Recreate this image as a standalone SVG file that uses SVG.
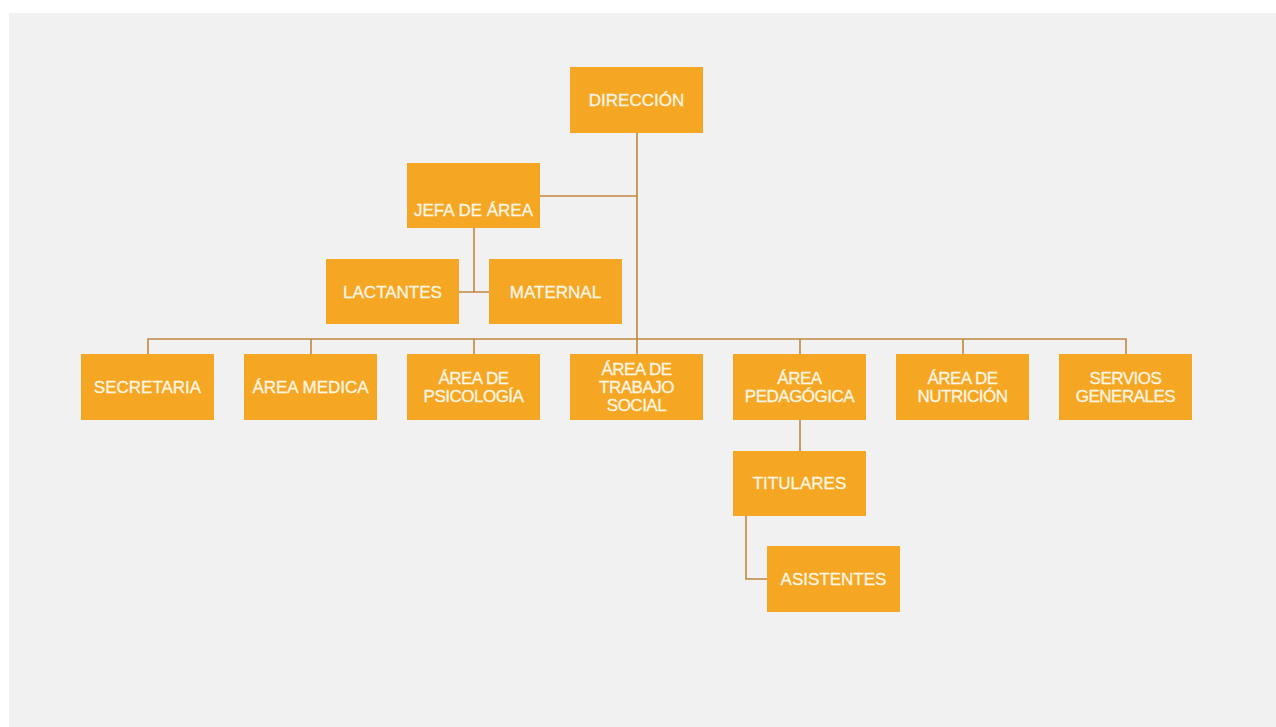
<svg xmlns="http://www.w3.org/2000/svg" width="1276" height="727" viewBox="0 0 1276 727">
<style>
.box{fill:#F5A623;}
.lbl{font-family:"Liberation Sans",Arial,sans-serif;font-size:17px;fill:#FFF6E4;stroke:#FFF6E4;stroke-width:0.3;text-anchor:middle;}
.ml{letter-spacing:-0.5px;}
.con{stroke:#C0873F;stroke-width:1.6;fill:none;}
</style>
<rect x="0" y="0" width="1276" height="727" fill="#FFFFFF"/>
<rect x="9" y="13" width="1267" height="714" fill="#F1F1F1"/>
<g id="connectors">
<path class="con" d="M637 133 V339"/>
<path class="con" d="M540 196 H637"/>
<path class="con" d="M474 228 V292 M459 292 H489"/>
<path class="con" d="M148 354 V339 H1126 V354 M311 339 V354 M474 339 V354 M637 339 V354 M800 339 V354 M963 339 V354"/>
<path class="con" d="M800 420 V451"/>
<path class="con" d="M746 516 V579 H767"/>
</g>
<g id="direccion"><rect class="box" x="570" y="67" width="133" height="66"/><text class="lbl" x="636.5" y="106">DIRECCIÓN</text></g>
<g id="jefa"><rect class="box" x="407" y="163" width="133" height="65"/><text class="lbl" x="473.5" y="216">JEFA DE ÁREA</text></g>
<g id="lactantes"><rect class="box" x="326" y="259" width="133" height="65"/><text class="lbl" x="392.5" y="298">LACTANTES</text></g>
<g id="maternal"><rect class="box" x="489" y="259" width="133" height="65"/><text class="lbl" x="555.5" y="298">MATERNAL</text></g>
<g id="secretaria"><rect class="box" x="81" y="354" width="133" height="66"/><text class="lbl" x="147.5" y="393">SECRETARIA</text></g>
<g id="medica"><rect class="box" x="244" y="354" width="133" height="66"/><text class="lbl" x="310.5" y="393">ÁREA MEDICA</text></g>
<g id="psicologia"><rect class="box" x="407" y="354" width="133" height="66"/><text class="lbl ml" x="473.5" y="384">ÁREA DE</text><text class="lbl ml" x="473.5" y="402">PSICOLOGÍA</text></g>
<g id="trabajo"><rect class="box" x="570" y="354" width="133" height="66"/><text class="lbl ml" x="636.5" y="375">ÁREA DE</text><text class="lbl ml" x="636.5" y="393">TRABAJO</text><text class="lbl ml" x="636.5" y="411">SOCIAL</text></g>
<g id="pedagogica"><rect class="box" x="733" y="354" width="133" height="66"/><text class="lbl ml" x="799.5" y="384">ÁREA</text><text class="lbl ml" x="799.5" y="402">PEDAGÓGICA</text></g>
<g id="nutricion"><rect class="box" x="896" y="354" width="133" height="66"/><text class="lbl ml" x="962.5" y="384">ÁREA DE</text><text class="lbl ml" x="962.5" y="402">NUTRICIÓN</text></g>
<g id="servios"><rect class="box" x="1059" y="354" width="133" height="66"/><text class="lbl ml" x="1125.5" y="384">SERVIOS</text><text class="lbl ml" x="1125.5" y="402">GENERALES</text></g>
<g id="titulares"><rect class="box" x="733" y="451" width="133" height="65"/><text class="lbl" x="799.5" y="489">TITULARES</text></g>
<g id="asistentes"><rect class="box" x="767" y="546" width="133" height="66"/><text class="lbl" x="833.5" y="585">ASISTENTES</text></g>
</svg>
